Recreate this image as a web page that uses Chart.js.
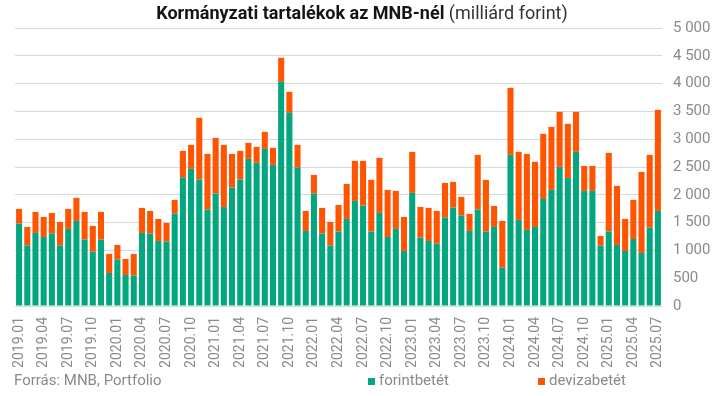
<!DOCTYPE html>
<html>
<head>
<meta charset="utf-8">
<script src="https://cdn.jsdelivr.net/npm/chart.js@4/dist/chart.umd.min.js"></script>
<style>
  html, body { margin: 0; padding: 0; background: #fff; }
  #wrap { width: 721px; height: 396px; position: relative; }
</style>
</head>
<body>
<div id="wrap"><canvas id="c" width="721" height="396"></canvas></div>
<script>
// monthly labels 2019.01 .. 2025.07
const months = [];
for (let y = 2019; y <= 2025; y++) {
  for (let m = 1; m <= 12; m++) {
    if (y === 2025 && m > 7) break;
    months.push(y + '.' + String(m).padStart(2, '0'));
  }
}

// forintbetét (billion HUF)
const forint = [
  1482, 1092, 1314, 1242, 1302, 1092, 1386, 1530, 1194, 978, 1194, 594,
  834, 558, 546, 1314, 1302, 1170, 1158, 1662, 2310, 2466, 2274, 1734,
  2022, 1782, 2130, 2274, 2646, 2574, 2826, 2538, 4032, 3474, 2490, 1350,
  2022, 1302, 1086, 1338, 1566, 1890, 1806, 1338, 1674, 1242, 1386, 990,
  2034, 1230, 1170, 1122, 1590, 1770, 1626, 1350, 1734, 1338, 1422, 690,
  2718, 1548, 1368, 1422, 1926, 2088, 2502, 2304, 2772, 2070, 2070, 1086,
  1338, 1098, 990, 1206, 954, 1410, 1710
];

// devizabetét (billion HUF)
const deviza = [
  264, 330, 378, 360, 372, 420, 360, 414, 498, 462, 498, 342,
  264, 288, 390, 450, 408, 396, 336, 246, 480, 432, 1110, 1002,
  1002, 1116, 606, 516, 288, 288, 306, 306, 432, 378, 408, 360,
  336, 462, 426, 480, 630, 720, 804, 930, 990, 846, 684, 612,
  738, 552, 594, 588, 624, 462, 336, 306, 984, 930, 378, 840,
  1206, 1224, 1368, 1170, 1170, 1134, 990, 972, 720, 450, 450, 174,
  1416, 1062, 576, 702, 1458, 1308, 1818
];

const GREEN = '#03a67f';
const ORANGE = '#ff5500';
const GREY = '#8a8a8a';
const FONT = 'Roboto';

const titleAndLegend = {
  id: 'titleAndLegend',
  afterDraw(chart) {
    const ctx = chart.ctx;
    ctx.save();
    // title: bold part + normal part
    const bold = 'Kormányzati tartalékok az MNB-nél';
    const normal = ' (milliárd forint)';
    ctx.textBaseline = 'alphabetic';
    ctx.font = 'bold 18px ' + FONT;
    const wb = ctx.measureText(bold).width;
    ctx.font = '18px ' + FONT;
    const wn = ctx.measureText(normal).width;
    let x = 362 - (wb + wn) / 2;
    ctx.fillStyle = '#151515';
    ctx.font = 'bold 18px ' + FONT;
    ctx.fillText(bold, x, 19);
    ctx.fillStyle = '#333';
    ctx.font = '18px ' + FONT;
    ctx.fillText(normal, x + wb, 19);

    // source + legend
    ctx.font = '15px ' + FONT;
    ctx.textBaseline = 'middle';
    ctx.fillStyle = GREY;
    ctx.fillText('Forrás: MNB, Portfolio', 14, 381);
    chart.data.datasets.forEach((ds, i) => {
      const lx = i === 0 ? 368 : 538;
      ctx.fillStyle = ds.backgroundColor;
      ctx.fillRect(lx, 378, 7, 7);
      ctx.fillStyle = GREY;
      ctx.fillText(ds.label, lx + 11, 381);
    });
    ctx.restore();
  }
};

new Chart(document.getElementById('c'), {
  type: 'bar',
  data: {
    labels: months,
    datasets: [
      { label: 'forintbetét', data: forint, backgroundColor: GREEN },
      { label: 'devizabetét', data: deviza, backgroundColor: ORANGE }
    ]
  },
  options: {
    responsive: false,
    animation: false,
    layout: { padding: { top: 28, bottom: 29, left: 15, right: 0 } },
    datasets: { bar: { barPercentage: 0.74, categoryPercentage: 1 } },
    plugins: {
      legend: { display: false },
      title: { display: false },
      tooltip: { enabled: false }
    },
    scales: {
      x: {
        stacked: true,
        grid: { display: false, drawTicks: false },
        border: { display: false },
        afterFit: s => { s.height = 61; },
        ticks: {
          autoSkip: false,
          minRotation: 90,
          maxRotation: 90,
          padding: 11,
          color: GREY,
          font: { family: FONT, size: 14 },
          callback: function (v, i) { return i % 3 === 0 ? this.getLabelForValue(v) : ''; }
        }
      },
      y: {
        stacked: true,
        position: 'right',
        min: 0,
        max: 5000,
        afterFit: s => { s.width = 59; },
        grid: { color: '#d9d9d9', drawTicks: false },
        border: { display: false },
        ticks: {
          stepSize: 500,
          padding: 11,
          color: GREY,
          font: { family: FONT, size: 15 },
          callback: v => String(v).replace(/\B(?=(\d{3})+(?!\d))/g, ' ')
        }
      }
    }
  },
  plugins: [titleAndLegend]
});
</script>
</body>
</html>
